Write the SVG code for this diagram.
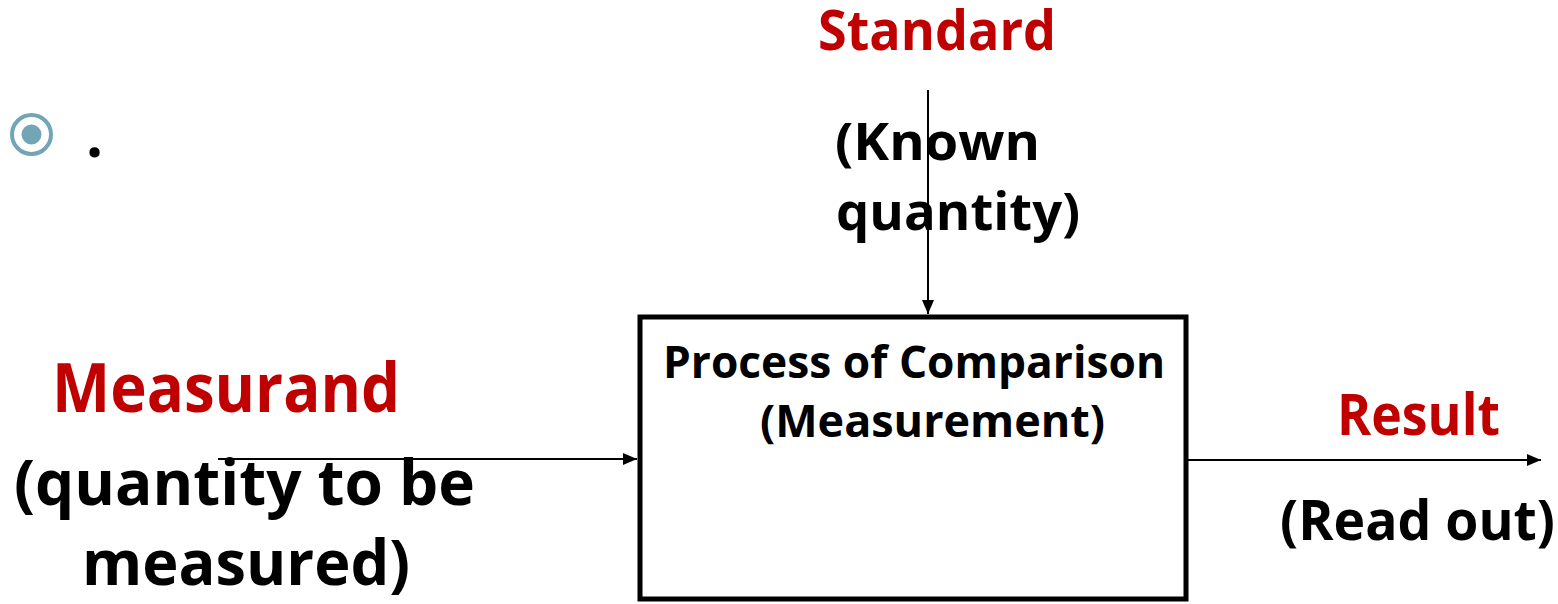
<svg xmlns="http://www.w3.org/2000/svg" width="1558" height="604" viewBox="0 0 1558 604">
<defs>
<style>
text{font-family:"Open Sans","Liberation Sans",sans-serif;font-weight:bold;}
.red{fill:#C00000;}
.blk{fill:#000;}
.conn{stroke:#000;stroke-width:2;fill:none;}
</style>
<marker id="ah" markerWidth="14" markerHeight="12" refX="14" refY="6" orient="auto" markerUnits="userSpaceOnUse">
<path d="M0,0 L14,6 L0,12 Z" fill="#000"/>
</marker>
</defs>
<rect width="1558" height="604" fill="#fff"/>
<g id="bullet">
<circle cx="31.5" cy="134.5" r="19.5" fill="none" stroke="#72A5B5" stroke-width="4"/>
<circle cx="31.5" cy="134.5" r="10" fill="#72A5B5"/>
<text x="86" y="157" font-size="60" class="blk">.</text>
</g>
<g id="connectors">
<line class="conn" x1="928" y1="90" x2="928" y2="314" marker-end="url(#ah)"/>
<line class="conn" x1="218" y1="459" x2="637" y2="459" marker-end="url(#ah)"/>
<line class="conn" x1="1188" y1="460" x2="1541" y2="460" marker-end="url(#ah)"/>
</g>
<g id="process">
<rect x="640" y="317" width="546" height="282" fill="none" stroke="#000" stroke-width="5"/>
<text x="663" y="378" font-size="44" class="blk" textLength="502" lengthAdjust="spacingAndGlyphs">Process of Comparison</text>
<text x="760" y="437" font-size="44" class="blk" textLength="345" lengthAdjust="spacingAndGlyphs">(Measurement)</text>
</g>
<g id="standard">
<text x="818" y="50" font-size="56" class="red" textLength="238" lengthAdjust="spacingAndGlyphs">Standard</text>
<text x="835" y="160" font-size="52" class="blk" textLength="205" lengthAdjust="spacingAndGlyphs">(Known</text>
<text x="836" y="230" font-size="52" class="blk" textLength="244" lengthAdjust="spacingAndGlyphs">quantity)</text>
</g>
<g id="measurand">
<text x="52" y="412" font-size="68" class="red" textLength="348" lengthAdjust="spacingAndGlyphs">Measurand</text>
<text x="14" y="505" font-size="62" class="blk" textLength="461" lengthAdjust="spacingAndGlyphs">(quantity to be</text>
<text x="82" y="585" font-size="62" class="blk" textLength="328" lengthAdjust="spacingAndGlyphs">measured)</text>
</g>
<g id="result">
<text x="1337" y="435" font-size="57" class="red" textLength="163" lengthAdjust="spacingAndGlyphs">Result</text>
<text x="1280" y="540" font-size="55" class="blk" textLength="275" lengthAdjust="spacingAndGlyphs">(Read out)</text>
</g>
</svg>
